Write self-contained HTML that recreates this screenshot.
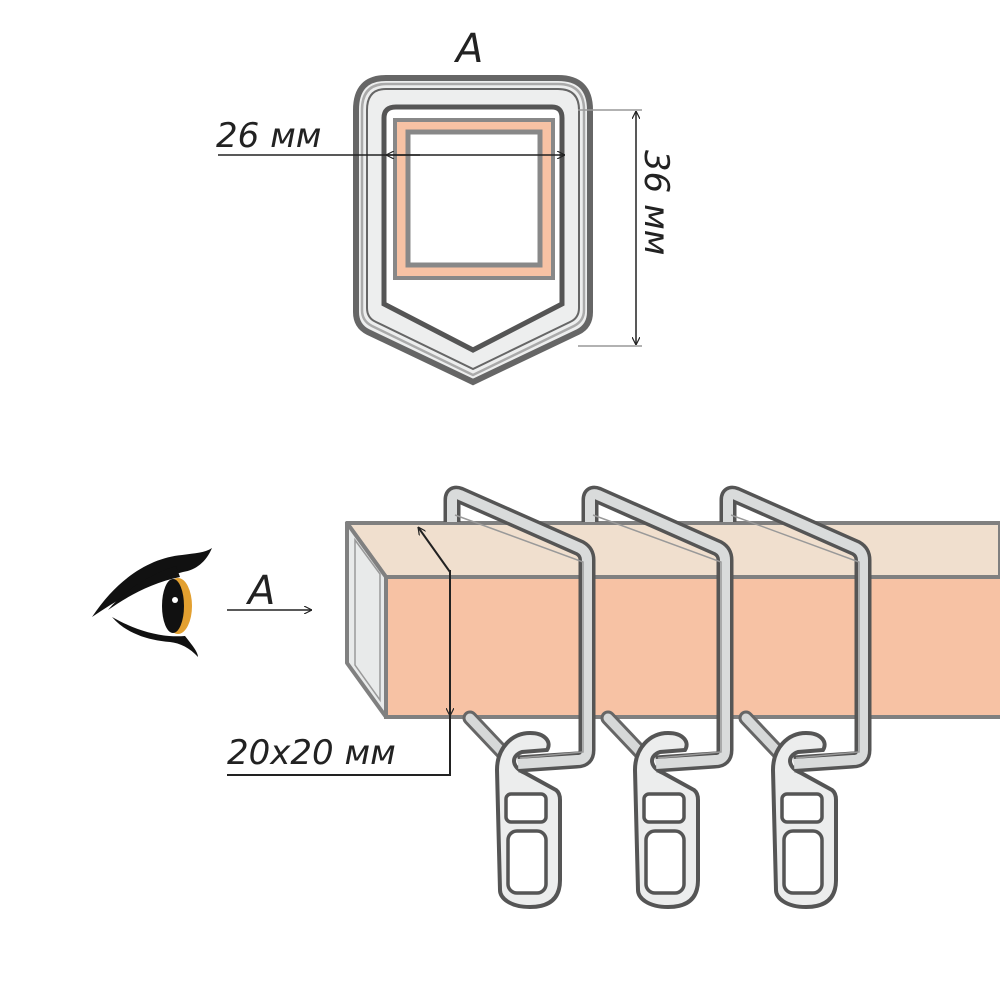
<!DOCTYPE html>
<html><head><meta charset="utf-8"><style>
html,body{margin:0;padding:0;background:#fff;width:1000px;height:1000px;overflow:hidden}
text{font-family:"DejaVu Sans","Liberation Sans",sans-serif;font-style:italic;fill:#222}
</style></head><body>
<svg width="1000" height="1000" viewBox="0 0 1000 1000" xmlns="http://www.w3.org/2000/svg">
<defs>
<marker id="ar" viewBox="0 0 10 10" refX="10" refY="5" markerWidth="8" markerHeight="8" orient="auto-start-reverse" markerUnits="userSpaceOnUse">
<path d="M0,0 L10,5 L0,10" fill="none" stroke="#222" stroke-width="1.5"/></marker>
<g id="hook">
<path d="M470,718 L505,755" stroke="#666" stroke-width="15" stroke-linecap="round" fill="none"/>
<path d="M470,718 L505,755" stroke="#d6d8d8" stroke-width="9" stroke-linecap="round" fill="none"/>
<path d="M500,890 L497,770 C497,748 512,733 530,733 C545,733 552,742 547,750 L522,752 C510,756 512,768 525,773 L556,790 C560,793 560,798 560,800 L560,880 C560,898 550,907 530,907 C510,907 500,898 500,890 Z" fill="#eceded" stroke="#555" stroke-width="4"/>
<rect x="506" y="794" width="40" height="28" rx="5" fill="#fff" stroke="#555" stroke-width="3.5"/>
<rect x="508" y="831" width="38" height="62" rx="9" fill="#fff" stroke="#555" stroke-width="3.5"/>
<path d="M452,522 L452,500 Q452,492 460,495 L580,548 Q587,552 587,560 L587,750 Q587,760 577,760 L518,764" fill="none" stroke="#555" stroke-width="17" stroke-linejoin="round"/>
<path d="M452,522 L452,500 Q452,492 460,495 L580,548 Q587,552 587,560 L587,750 Q587,760 577,760 L518,764" fill="none" stroke="#d9dbdb" stroke-width="10" stroke-linejoin="round"/>
<path d="M455,515 L583,562 L583,752 L520,758" fill="none" stroke="#999" stroke-width="1.5"/>
</g>
</defs>

<!-- top shield -->
<text x="456" y="62" font-size="40">A</text>
<path d="M386,78 L558,78 Q590,78 590,110 L590,312 Q590,326 578,332 L473,382 L368,332 Q356,326 356,312 L356,110 Q356,78 386,78 Z" fill="#edeeee" stroke="#666" stroke-width="6"/>
<path d="M386,84 L558,84 Q584,84 584,110 L584,310 Q584,321 574,326 L473,375 L372,326 Q362,321 362,310 L362,110 Q362,84 386,84 Z" fill="none" stroke="#aaa" stroke-width="2.5"/>
<path d="M386,89 L558,89 Q579,89 579,110 L579,308 Q579,318 570,322 L473,369 L376,322 Q367,318 367,308 L367,110 Q367,89 386,89 Z" fill="none" stroke="#666" stroke-width="2"/>
<path d="M396,107 L552,107 Q562,107 562,118 L562,304 L473,350 L384,304 L384,118 Q384,107 396,107 Z" fill="#fff" stroke="#555" stroke-width="5"/>
<rect x="395" y="120" width="158" height="158" fill="#f7c2a4" stroke="#888" stroke-width="4"/>
<rect x="408" y="132" width="132" height="133" fill="#fff" stroke="#888" stroke-width="5"/>
<line x1="218" y1="155" x2="420" y2="155" stroke="#222" stroke-width="1.5"/>
<line x1="386" y1="155" x2="565" y2="155" stroke="#222" stroke-width="1.5" marker-start="url(#ar)" marker-end="url(#ar)"/>
<text x="216" y="147" font-size="34">26 мм</text>
<line x1="578" y1="110" x2="642" y2="110" stroke="#999" stroke-width="1.5"/>
<line x1="578" y1="346" x2="642" y2="346" stroke="#999" stroke-width="1.5"/>
<line x1="636" y1="111" x2="636" y2="345" stroke="#222" stroke-width="1.5" marker-start="url(#ar)" marker-end="url(#ar)"/>
<text x="0" y="0" font-size="34" transform="translate(645,150) rotate(90)">36 мм</text>

<!-- rod -->
<polygon points="347,523 1000,523 1000,577 386,577" fill="#f0dfce" stroke="#808080" stroke-width="4" stroke-linejoin="round"/>
<rect x="386" y="577" width="616" height="140" fill="#f7c2a4" stroke="#808080" stroke-width="4"/>
<polygon points="347,523 386,577 386,717 347,663" fill="#e8eaea" stroke="#808080" stroke-width="4" stroke-linejoin="round"/>
<polygon points="355,540 380,574 380,700 355,665" fill="none" stroke="#999" stroke-width="1.5"/>

<use href="#hook"/>
<use href="#hook" transform="translate(138,0)"/>
<use href="#hook" transform="translate(276,0)"/>

<!-- 20x20 dim -->
<polyline points="450,715 450,775 227,775" fill="none" stroke="#222" stroke-width="2"/>
<line x1="450" y1="570" x2="450" y2="716" stroke="#222" stroke-width="2" marker-end="url(#ar)"/>
<line x1="450" y1="572" x2="418" y2="527" stroke="#222" stroke-width="2" marker-end="url(#ar)"/>
<text x="227" y="764" font-size="34">20x20 мм</text>

<!-- A arrow -->
<text x="248" y="604" font-size="40">A</text>
<line x1="227" y1="610" x2="312" y2="610" stroke="#222" stroke-width="1.5" marker-end="url(#ar)"/>

<!-- eye -->
<path d="M92,617 C118,578 150,558 182,555 C195,553 205,553 212,548 C206,562 196,570 183,572 C150,580 120,598 92,617 Z" fill="#111"/>
<path d="M108,610 C125,590 150,574 176,566 L180,577 C150,583 125,598 108,610 Z" fill="#111"/>
<path d="M112,617 C135,630 160,638 185,636 C192,645 198,652 198,657 C190,648 180,643 170,642 C145,640 125,632 112,617 Z" fill="#111"/>
<ellipse cx="178" cy="606" rx="14" ry="28" fill="#e3a030"/>
<ellipse cx="173" cy="606" rx="11" ry="27" fill="#111"/>
<circle cx="175" cy="600" r="3" fill="#fff"/>
</svg>
</body></html>
